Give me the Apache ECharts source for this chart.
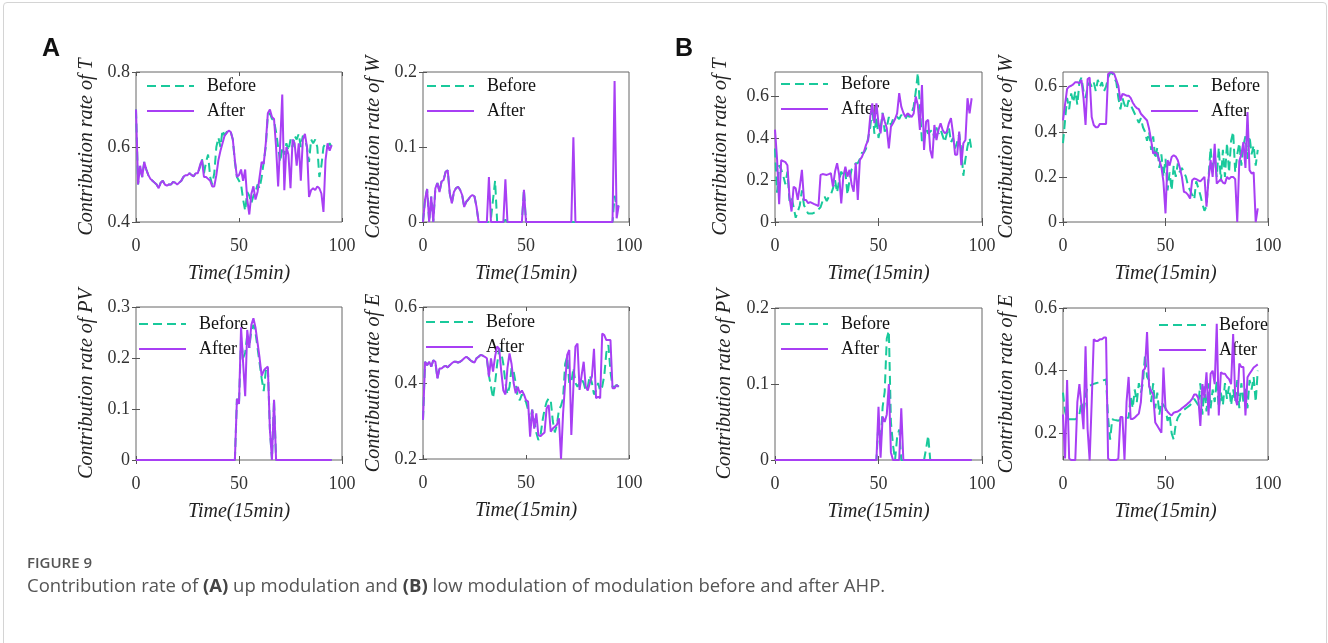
<!DOCTYPE html>
<html>
<head>
<meta charset="utf-8">
<script src="https://cdn.jsdelivr.net/npm/echarts@6/dist/echarts.min.js"></script>
<style>
  html, body { margin: 0; padding: 0; background: #fff; }
  #frame { position: absolute; left: 3px; top: 2px; width: 1322px; height: 720px; border: 1px solid #d4d4d4; border-radius: 4px; }
  #chart { position: absolute; left: 0; top: 0; width: 1328px; height: 643px; }
</style>
</head>
<body>
<div id="frame"></div>
<div id="chart"></div>
<script>
// values, one per 15 min step (x = 0..95)
const aT_before = [0.70,0.50,0.55,0.52,0.56,0.54,0.525,0.515,0.51,0.505,
  0.50,0.49,0.505,0.51,0.50,0.497,0.50,0.50,0.507,0.505,
  0.50,0.505,0.51,0.52,0.525,0.525,0.53,0.525,0.522,0.53,
  0.53,0.545,0.57,0.53,0.56,0.58,0.52,0.50,0.53,0.60,
  0.625,0.60,0.645,0.63,0.64,0.645,0.64,0.62,0.56,0.52,
  0.51,0.50,0.46,0.43,0.48,0.47,0.45,0.47,0.48,0.50,
  0.49,0.52,0.56,0.60,0.685,0.69,0.675,0.67,0.64,0.60,
  0.56,0.60,0.58,0.61,0.59,0.62,0.60,0.63,0.62,0.635,
  0.60,0.63,0.62,0.60,0.56,0.62,0.61,0.62,0.60,0.52,
  0.55,0.60,0.61,0.60,0.61,0.60];
const aT_after = [0.70,0.50,0.55,0.52,0.56,0.54,0.525,0.515,0.51,0.505,
  0.50,0.49,0.505,0.51,0.50,0.497,0.50,0.50,0.507,0.505,
  0.50,0.505,0.51,0.52,0.525,0.525,0.53,0.525,0.522,0.53,
  0.53,0.55,0.565,0.52,0.52,0.515,0.51,0.495,0.495,0.525,
  0.565,0.59,0.61,0.63,0.637,0.644,0.64,0.62,0.565,0.52,
  0.525,0.54,0.51,0.54,0.46,0.42,0.475,0.495,0.46,0.48,
  0.52,0.56,0.555,0.61,0.69,0.70,0.68,0.675,0.60,0.495,
  0.61,0.74,0.485,0.60,0.58,0.49,0.62,0.61,0.55,0.61,
  0.51,0.62,0.635,0.60,0.467,0.485,0.49,0.485,0.495,0.49,
  0.476,0.427,0.565,0.61,0.59,0.605];

const aW_before = [0,0.03,0.044,0,0.034,0,0.045,0.052,0.04,0.054,
  0.056,0.067,0.069,0.038,0.025,0.04,0.045,0.047,0.043,0.036,
  0.02,0.027,0.03,0.034,0.036,0.034,0.02,0,0,0,
  0,0,0,0.005,0.03,0.055,0,0,0,0,
  0.003,0,0,0,0,0,0,0,0,0.043,
  0,0,0,0,0,0,0,0,0,0,
  0,0,0,0,0,0,0,0,0,0,
  0,0,0,0,0,0,0,0,0,0,
  0,0,0,0,0,0,0,0,0,0,
  0,0,0,0.035,0.02,0.022];
const aW_after = [0,0.03,0.044,0,0.034,0,0.045,0.052,0.04,0.054,
  0.056,0.067,0.069,0.038,0.025,0.04,0.045,0.047,0.043,0.036,
  0.02,0.027,0.03,0.034,0.036,0.034,0.02,0,0,0,
  0,0,0.06,0,0,0,0,0,0,0,
  0.057,0,0,0,0,0,0,0,0,0.043,
  0,0,0,0,0,0,0,0,0,0,
  0,0,0,0,0,0,0,0,0,0,
  0,0,0,0.113,0,0,0,0,0,0,
  0,0,0,0,0,0,0,0,0,0,
  0,0,0,0.188,0.005,0.022];

const aPV_before = [0,0,0,0,0,0,0,0,0,0,
  0,0,0,0,0,0,0,0,0,0,
  0,0,0,0,0,0,0,0,0,0,
  0,0,0,0,0,0,0,0,0,0,
  0,0,0,0,0,0,0,0,0,0.12,
  0.11,0.24,0.20,0.21,0.245,0.22,0.255,0.265,0.25,0.22,
  0.19,0.16,0.135,0.175,0.183,0.06,0,0.118,0,0,
  0,0,0,0,0,0,0,0,0,0,
  0,0,0,0,0,0,0,0,0,0,
  0,0,0,0,0,0];
const aPV_after = [0,0,0,0,0,0,0,0,0,0,
  0,0,0,0,0,0,0,0,0,0,
  0,0,0,0,0,0,0,0,0,0,
  0,0,0,0,0,0,0,0,0,0,
  0,0,0,0,0,0,0,0,0,0.12,
  0.11,0.26,0.19,0.125,0.255,0.22,0.265,0.278,0.26,0.23,
  0.20,0.165,0.175,0.18,0.183,0.06,0,0.118,0,0,
  0,0,0,0,0,0,0,0,0,0,
  0,0,0,0,0,0,0,0,0,0,
  0,0,0,0,0,0];

const aE_before = [0.303,0.456,0.447,0.456,0.443,0.46,0.456,0.412,0.438,0.438,
  0.443,0.445,0.441,0.447,0.452,0.456,0.456,0.454,0.456,0.46,
  0.465,0.469,0.465,0.46,0.456,0.454,0.465,0.469,0.474,0.472,
  0.469,0.465,0.42,0.39,0.36,0.40,0.45,0.49,0.48,0.45,
  0.40,0.37,0.39,0.44,0.43,0.40,0.36,0.355,0.37,0.36,
  0.35,0.33,0.30,0.33,0.30,0.27,0.25,0.26,0.30,0.33,
  0.35,0.36,0.355,0.30,0.27,0.29,0.33,0.34,0.36,0.45,
  0.47,0.40,0.40,0.44,0.40,0.39,0.40,0.41,0.40,0.38,
  0.39,0.42,0.40,0.37,0.38,0.40,0.38,0.39,0.42,0.48,
  0.50,0.43,0.39,0.39,0.395,0.39];
const aE_after = [0.303,0.456,0.447,0.456,0.443,0.46,0.456,0.412,0.438,0.438,
  0.443,0.445,0.441,0.447,0.452,0.456,0.456,0.454,0.456,0.46,
  0.465,0.469,0.465,0.46,0.456,0.454,0.465,0.469,0.474,0.472,
  0.469,0.465,0.417,0.465,0.43,0.47,0.496,0.49,0.43,0.38,
  0.37,0.44,0.478,0.45,0.40,0.373,0.39,0.373,0.38,0.37,
  0.355,0.351,0.259,0.33,0.28,0.32,0.263,0.26,0.265,0.27,
  0.333,0.342,0.272,0.28,0.285,0.29,0.307,0.20,0.32,0.40,
  0.474,0.487,0.263,0.39,0.496,0.504,0.382,0.42,0.456,0.39,
  0.38,0.40,0.417,0.49,0.36,0.364,0.36,0.53,0.526,0.513,
  0.513,0.513,0.386,0.386,0.395,0.39];

const bT_before = [0.35,0.14,0.27,0.25,0.22,0.18,0.24,0.10,0.12,0.07,
  0.02,0.05,0.08,0.15,0.08,0.06,0.04,0.04,0.04,0.045,
  0.05,0.06,0.07,0.10,0.12,0.10,0.12,0.13,0.16,0.20,
  0.14,0.20,0.24,0.22,0.24,0.13,0.20,0.25,0.26,0.28,
  0.28,0.30,0.33,0.33,0.35,0.40,0.45,0.55,0.42,0.50,
  0.40,0.45,0.52,0.43,0.45,0.50,0.46,0.49,0.50,0.50,
  0.49,0.51,0.50,0.49,0.51,0.50,0.52,0.55,0.62,0.71,
  0.55,0.38,0.40,0.45,0.42,0.43,0.44,0.40,0.45,0.42,
  0.44,0.41,0.38,0.42,0.45,0.38,0.40,0.35,0.38,0.42,
  0.34,0.22,0.30,0.36,0.40,0.34];
const bT_after = [0.44,0.30,0.085,0.295,0.29,0.285,0.27,0.12,0.05,0.168,
  0.16,0.105,0.17,0.248,0.105,0.105,0.09,0.095,0.09,0.085,
  0.081,0.075,0.224,0.228,0.226,0.224,0.228,0.232,0.168,0.24,
  0.28,0.224,0.089,0.216,0.263,0.216,0.248,0.18,0.144,0.28,
  0.105,0.295,0.31,0.335,0.367,0.39,0.50,0.565,0.47,0.565,
  0.47,0.422,0.517,0.48,0.446,0.35,0.454,0.47,0.49,0.517,
  0.613,0.549,0.52,0.50,0.517,0.51,0.50,0.517,0.597,0.557,
  0.438,0.652,0.343,0.478,0.486,0.343,0.303,0.462,0.39,0.44,
  0.47,0.438,0.422,0.43,0.47,0.494,0.422,0.32,0.32,0.43,
  0.271,0.375,0.39,0.589,0.517,0.589];

const bW_before = [0.35,0.45,0.55,0.50,0.57,0.53,0.58,0.52,0.62,0.64,
  0.58,0.55,0.60,0.62,0.60,0.62,0.58,0.63,0.60,0.62,
  0.58,0.60,0.64,0.66,0.66,0.64,0.62,0.55,0.50,0.55,
  0.52,0.50,0.54,0.52,0.50,0.48,0.46,0.44,0.46,0.42,
  0.40,0.36,0.40,0.32,0.38,0.28,0.33,0.24,0.30,0.20,
  0.28,0.14,0.22,0.14,0.25,0.20,0.26,0.22,0.24,0.22,
  0.20,0.16,0.14,0.12,0.10,0.18,0.15,0.12,0.08,0.05,
  0.07,0.20,0.33,0.22,0.30,0.20,0.33,0.18,0.32,0.20,
  0.35,0.22,0.36,0.40,0.22,0.30,0.35,0.25,0.34,0.38,
  0.28,0.38,0.30,0.34,0.25,0.32];
const bW_after = [0.45,0.52,0.59,0.60,0.604,0.61,0.62,0.62,0.615,0.63,
  0.55,0.43,0.634,0.64,0.465,0.43,0.42,0.42,0.435,0.435,
  0.435,0.435,0.656,0.663,0.663,0.656,0.63,0.604,0.538,0.568,
  0.565,0.56,0.56,0.55,0.53,0.515,0.505,0.50,0.48,0.47,
  0.46,0.45,0.413,0.362,0.303,0.31,0.30,0.274,0.244,0.178,
  0.038,0.274,0.25,0.288,0.296,0.29,0.274,0.24,0.20,0.134,
  0.13,0.12,0.104,0.185,0.193,0.19,0.185,0.18,0.19,0.20,
  0.068,0.19,0.274,0.20,0.347,0.17,0.18,0.19,0.175,0.17,
  0.20,0.19,0.20,0.20,0.19,0,0.27,0.30,0.354,0.24,
  0.487,0.23,0.215,0.22,0,0.06];

const bPV_before = [0,0,0,0,0,0,0,0,0,0,
  0,0,0,0,0,0,0,0,0,0,
  0,0,0,0,0,0,0,0,0,0,
  0,0,0,0,0,0,0,0,0,0,
  0,0,0,0,0,0,0,0,0,0,
  0.05,0.02,0.07,0.09,0.16,0.17,0.05,0.02,0,0.03,
  0.04,0,0,0,0,0,0,0,0,0,
  0,0,0,0.015,0.032,0,0,0,0,0,
  0,0,0,0,0,0,0,0,0,0,
  0,0,0,0,0,0];
const bPV_after = [0,0,0,0,0,0,0,0,0,0,
  0,0,0,0,0,0,0,0,0,0,
  0,0,0,0,0,0,0,0,0,0,
  0,0,0,0,0,0,0,0,0,0,
  0,0,0,0,0,0,0,0,0,0,
  0.07,0.003,0.057,0.05,0.06,0.10,0.01,0,0,0,
  0,0.068,0,0,0,0,0,0,0,0,
  0,0,0,0,0,0,0,0,0,0,
  0,0,0,0,0,0,0,0,0,0,
  0,0,0,0,0,0];

const bE_before = [0.33,0.27,0.245,0.245,0.245,0.245,0.245,0.25,0.26,0.30,
  0.26,0.32,0.35,0.352,0.355,0.358,0.36,0.362,0.365,0.368,
  0.37,0.372,0.25,0.18,0.245,0.243,0.242,0.24,0.245,0.25,
  0.25,0.25,0.25,0.32,0.28,0.34,0.30,0.36,0.33,0.36,
  0.45,0.38,0.37,0.30,0.36,0.28,0.33,0.26,0.30,0.29,
  0.28,0.24,0.26,0.20,0.18,0.23,0.25,0.26,0.27,0.275,
  0.28,0.285,0.29,0.30,0.31,0.30,0.29,0.36,0.26,0.35,
  0.27,0.36,0.28,0.34,0.30,0.37,0.28,0.33,0.29,0.36,
  0.31,0.35,0.29,0.34,0.30,0.37,0.28,0.36,0.30,0.35,
  0.28,0.37,0.34,0.38,0.30,0.40];
const bE_after = [0.26,0.12,0.37,0.12,0.115,0.115,0.115,0.30,0.357,0.29,
  0.213,0.478,0.213,0.114,0.30,0.50,0.495,0.495,0.50,0.50,
  0.506,0.506,0.12,0.115,0.115,0.115,0.115,0.12,0.252,0.252,
  0.115,0.30,0.38,0.246,0.246,0.25,0.257,0.263,0.30,0.40,
  0.407,0.523,0.35,0.335,0.324,0.235,0.224,0.213,0.202,0.41,
  0.28,0.269,0.262,0.257,0.266,0.268,0.27,0.274,0.28,0.285,
  0.29,0.296,0.302,0.31,0.324,0.324,0.313,0.224,0.357,0.313,
  0.395,0.257,0.39,0.40,0.357,0.55,0.257,0.395,0.39,0.39,
  0.38,0.373,0.357,0.517,0.313,0.29,0.423,0.412,0.412,0.257,
  0.379,0.39,0.40,0.41,0.415,0.42];

const xTicks = [0, 50, 100];
const seriesNames = ['Before', 'After'];

const GREEN = '#19c99b';
const PURPLE = '#a83ff4';
const SERIF = 'Liberation Serif';

const panels = [
  { box: [136, 72, 206, 150], y: [0.4, 0.8], ticks: [0.4, 0.6, 0.8], label: 'T', before: aT_before, after: aT_after, legend: [146, 76], gap: 39 },
  { box: [423, 72, 206, 150], y: [0, 0.2], ticks: [0, 0.1, 0.2], label: 'W', before: aW_before, after: aW_after, legend: [426, 76], gap: 39 },
  { box: [136, 307, 206, 153], y: [0, 0.3], ticks: [0, 0.1, 0.2, 0.3], label: 'PV', before: aPV_before, after: aPV_after, legend: [138, 314], gap: 39 },
  { box: [423, 307, 206, 152], y: [0.2, 0.6], ticks: [0.2, 0.4, 0.6], label: 'E', before: aE_before, after: aE_after, legend: [425, 312], gap: 39 },
  { box: [775, 72, 207, 150], y: [0, 0.714], ticks: [0, 0.2, 0.4, 0.6], label: 'T', before: bT_before, after: bT_after, legend: [780, 74], gap: 44 },
  { box: [1063, 72, 205, 150], y: [0, 0.665], ticks: [0, 0.2, 0.4, 0.6], label: 'W', before: bW_before, after: bW_after, legend: [1150, 76], gap: 46 },
  { box: [775, 308, 207, 152], y: [0, 0.2], ticks: [0, 0.1, 0.2], label: 'PV', before: bPV_before, after: bPV_after, legend: [780, 314], gap: 40 },
  { box: [1063, 308, 205, 152], y: [0.115, 0.6], ticks: [0.2, 0.4, 0.6], label: 'E', before: bE_before, after: bE_after, legend: [1158, 315], gap: 46 }
];

const chart = echarts.init(document.getElementById('chart'));

const grid = [], xAxis = [], yAxis = [], legend = [], series = [];
const tickStyle = { inside: true, length: 4, lineStyle: { color: '#555' } };

panels.forEach((p, k) => {
  grid.push({
    left: p.box[0], top: p.box[1], width: p.box[2], height: p.box[3],
    show: true, borderColor: '#666', borderWidth: 1
  });
  // bottom axis with labels
  xAxis.push({
    type: 'value', gridIndex: k, min: 0, max: 100, position: 'bottom',
    axisLine: { show: false }, splitLine: { show: false },
    axisTick: Object.assign({ customValues: xTicks }, tickStyle),
    axisLabel: { customValues: xTicks, margin: 15, fontFamily: SERIF, fontSize: 18, color: '#333' },
    name: 'Time(15min)', nameLocation: 'middle', nameGap: 42,
    nameTextStyle: { fontFamily: SERIF, fontStyle: 'italic', fontSize: 20, color: '#222' }
  });
  // top axis, ticks only
  xAxis.push({
    type: 'value', gridIndex: k, min: 0, max: 100, position: 'top',
    axisLine: { show: false }, splitLine: { show: false },
    axisTick: Object.assign({ customValues: xTicks }, tickStyle),
    axisLabel: { show: false }
  });
  yAxis.push({
    type: 'value', gridIndex: k, min: p.y[0], max: p.y[1], position: 'left',
    axisLine: { show: false }, splitLine: { show: false },
    axisTick: Object.assign({ customValues: p.ticks }, tickStyle),
    axisLabel: { customValues: p.ticks, margin: 6, fontFamily: SERIF, fontSize: 18, color: '#333' },
    name: 'Contribution rate of ' + p.label, nameLocation: 'middle', nameRotate: 90, nameGap: p.gap,
    nameTextStyle: { fontFamily: SERIF, fontStyle: 'italic', fontSize: 20, color: '#222' }
  });
  yAxis.push({
    type: 'value', gridIndex: k, min: p.y[0], max: p.y[1], position: 'right',
    axisLine: { show: false }, splitLine: { show: false },
    axisTick: Object.assign({ customValues: p.ticks }, tickStyle),
    axisLabel: { show: false }
  });
  legend.push({
    left: p.legend[0], top: p.legend[1], orient: 'vertical', padding: 0,
    data: seriesNames, selectedMode: false, z: 1,
    itemWidth: 47, itemHeight: 12, itemGap: 5,
    itemStyle: { opacity: 0 },
    textStyle: { fontFamily: SERIF, fontSize: 18, color: '#111', lineHeight: 20, padding: [0, 0, 0, 8] }
  });
  series.push({
    type: 'line', name: 'Before', xAxisIndex: 2 * k, yAxisIndex: 2 * k,
    data: p.before.map((v, i) => [i, v]),
    symbol: 'none', z: 2,
    lineStyle: { color: GREEN, width: 2, type: [9, 5] }, itemStyle: { color: GREEN }
  });
  series.push({
    type: 'line', name: 'After', xAxisIndex: 2 * k, yAxisIndex: 2 * k,
    data: p.after.map((v, i) => [i, v]),
    symbol: 'none', z: 3,
    lineStyle: { color: PURPLE, width: 2 }, itemStyle: { color: PURPLE }
  });
});

const option = {
  animation: false,
  backgroundColor: 'transparent',
  title: [
    { text: 'A', left: 42, top: 37, padding: 0, textStyle: { fontFamily: 'Liberation Sans', fontWeight: 'bold', fontSize: 25, color: '#111' } },
    { text: 'B', left: 675, top: 37, padding: 0, textStyle: { fontFamily: 'Liberation Sans', fontWeight: 'bold', fontSize: 25, color: '#111' } },
    { text: 'FIGURE 9', left: 27, top: 556, padding: 0, textStyle: { fontFamily: 'Open Sans', fontWeight: 600, fontSize: 15, color: '#555' } },
    {
      text: 'Contribution rate of {b|(A)} up modulation and {b|(B)} low modulation of modulation before and after AHP.',
      left: 27, top: 577, padding: 0,
      textStyle: {
        fontFamily: 'Open Sans', fontSize: 18.5, fontWeight: 'normal', color: '#555',
        rich: { b: { fontFamily: 'Open Sans', fontSize: 18.5, fontWeight: 'bold', color: '#444' } }
      }
    }
  ],
  grid: grid,
  xAxis: xAxis,
  yAxis: yAxis,
  legend: legend,
  series: series
};

chart.setOption(option);
</script>
</body>
</html>
